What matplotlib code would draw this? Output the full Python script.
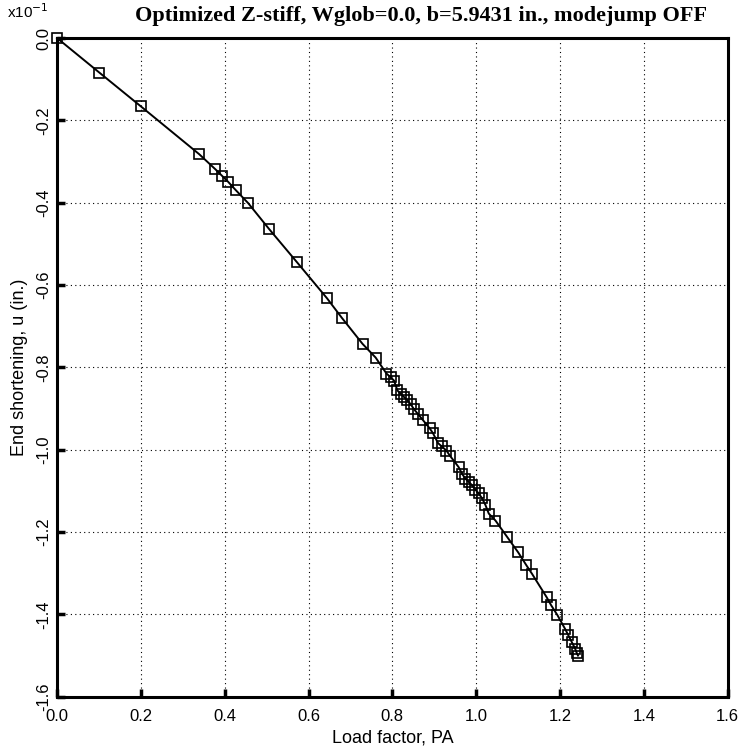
import matplotlib
matplotlib.use("Agg")
import matplotlib.pyplot as plt
import numpy as np

# Load factor vs end shortening (x10^-1 in.)
load_factor = [0.0, 0.101, 0.200, 0.339, 0.378, 0.393, 0.408, 0.426, 0.456,
               0.506, 0.572, 0.644, 0.679, 0.729, 0.760, 0.786, 0.796, 0.804,
               0.812, 0.820, 0.828, 0.836, 0.844, 0.852, 0.860, 0.873, 0.889,
               0.897, 0.909, 0.918, 0.929, 0.937, 0.958, 0.966, 0.974, 0.982,
               0.990, 0.998, 1.006, 1.014, 1.022, 1.030, 1.046, 1.074, 1.100,
               1.120, 1.133, 1.168, 1.179, 1.194, 1.212, 1.220, 1.228, 1.236,
               1.240, 1.243]
shortening = [0.0, -0.084, -0.166, -0.282, -0.319, -0.334, -0.349, -0.369, -0.401,
              -0.464, -0.544, -0.632, -0.679, -0.743, -0.776, -0.815, -0.824, -0.832,
              -0.856, -0.864, -0.872, -0.880, -0.890, -0.902, -0.912, -0.928, -0.948,
              -0.960, -0.984, -0.992, -1.002, -1.014, -1.042, -1.058, -1.070, -1.078,
              -1.086, -1.097, -1.106, -1.118, -1.134, -1.155, -1.172, -1.212, -1.249,
              -1.281, -1.301, -1.358, -1.378, -1.402, -1.435, -1.451, -1.467, -1.483,
              -1.494, -1.500]

x_ticks = [0.0, 0.2, 0.4, 0.6, 0.8, 1.0, 1.2, 1.4, 1.6]
y_ticks = [0.0, -0.2, -0.4, -0.6, -0.8, -1.0, -1.2, -1.4, -1.6]

fig = plt.figure(figsize=(7.41, 7.46), dpi=100)
ax = fig.add_axes([0.077, 0.066, 0.905, 0.883])

ax.plot(load_factor, shortening, color="black", linewidth=1.4,
        marker="s", markersize=7.5, markerfacecolor="none",
        markeredgecolor="black", markeredgewidth=1.2, clip_on=False)

ax.set_xlim(0.0, 1.6)
ax.set_ylim(-1.6, 0.0)
ax.set_xticks(x_ticks)
ax.set_yticks(y_ticks)
ax.set_xticklabels([f"{v:.1f}" for v in x_ticks], fontsize=12,
                   family="Liberation Sans")
ax.set_yticklabels([f"{v:.1f}" if v != 0 else "0.0" for v in y_ticks],
                   fontsize=12, family="Liberation Sans",
                   rotation=90, va="center")
ax.tick_params(direction="in", length=6, width=2.5)
ax.tick_params(axis="x", pad=9)
ax.tick_params(axis="y", pad=4)

ax.grid(True, color="black", linestyle=(0, (1, 3)), linewidth=0.8)
for s in ax.spines.values():
    s.set_linewidth(2.2)

ax.set_xlabel("Load factor, PA", fontsize=13, family="Liberation Sans", labelpad=4)
ax.set_ylabel("End shortening, u (in.)", fontsize=13, family="Liberation Sans",
              labelpad=6)
ax.set_title("Optimized Z-stiff, Wglob=0.0, b=5.9431 in., modejump OFF",
             fontsize=16, fontweight="bold", family="Liberation Serif", pad=12,
             x=0.543)
fig.text(0.010, 0.984, r"x10$^{-1}$", fontsize=11, family="Liberation Sans",
         va="center")

fig.savefig("out.png", dpi=100)
